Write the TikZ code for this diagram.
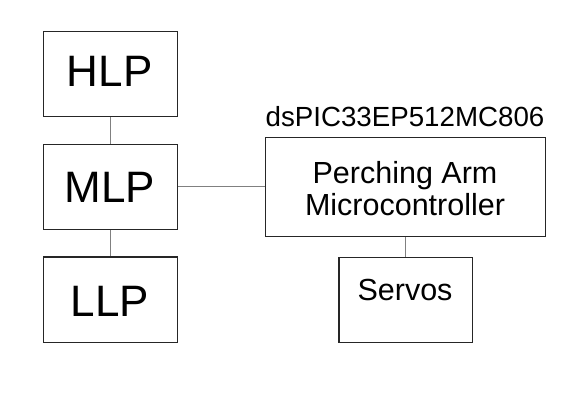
\documentclass[tikz,border=0pt]{standalone}
\usepackage{fontspec}
\setmainfont{Liberation Sans}
\begin{document}
\begin{tikzpicture}[x=1pt,y=-1pt,
  box/.style={draw=black!85,line width=1.3pt,inner sep=0pt,anchor=north west},
  conn/.style={draw=black!50,line width=1pt},
  big/.style={font=\fontsize{44}{44}\selectfont,anchor=base,inner sep=0pt},
  mid/.style={font=\fontsize{30.5}{31.7}\selectfont,anchor=base,inner sep=0pt},
  lab/.style={font=\fontsize{27.7}{28}\selectfont,anchor=base,inner sep=0pt}]
\useasboundingbox (0,0) rectangle (580,408);
\node[box,minimum width=134pt,minimum height=85pt] (hlp) at (42.7,30.5) {};
\node[box,minimum width=134pt,minimum height=85.5pt] (mlp) at (42.7,143.5) {};
\node[box,minimum width=134pt,minimum height=85.5pt] (llp) at (42.7,256.3) {};
\node[box,minimum width=279.7pt,minimum height=99.3pt] (pam) at (265,136.7) {};
\node[box,minimum width=133.4pt,minimum height=85pt] (servos) at (338.3,256.7) {};
\node[big] (thlp) at (109.7,86) {HLP};
\node[big] (tmlp) at (109.7,202.7) {MLP};
\node[big] (tllp) at (109.7,316) {LLP};
\node[lab] (tdspic) at (405,126.7) {dsPIC33EP512MC806};
\node[mid] (tpam1) at (405,183.3) {Perching Arm};
\node[mid] (tpam2) at (405,215) {Microcontroller};
\node[mid] (tservos) at (405,300.7) {Servos};
\draw[conn] (hlp.south) -- (mlp.north);
\draw[conn] (mlp.south) -- (llp.north);
\draw[conn] (mlp.east) -- (mlp.east -| pam.west);
\draw[conn] (pam.south -| servos.north) -- (servos.north);
\end{tikzpicture}
\end{document}
